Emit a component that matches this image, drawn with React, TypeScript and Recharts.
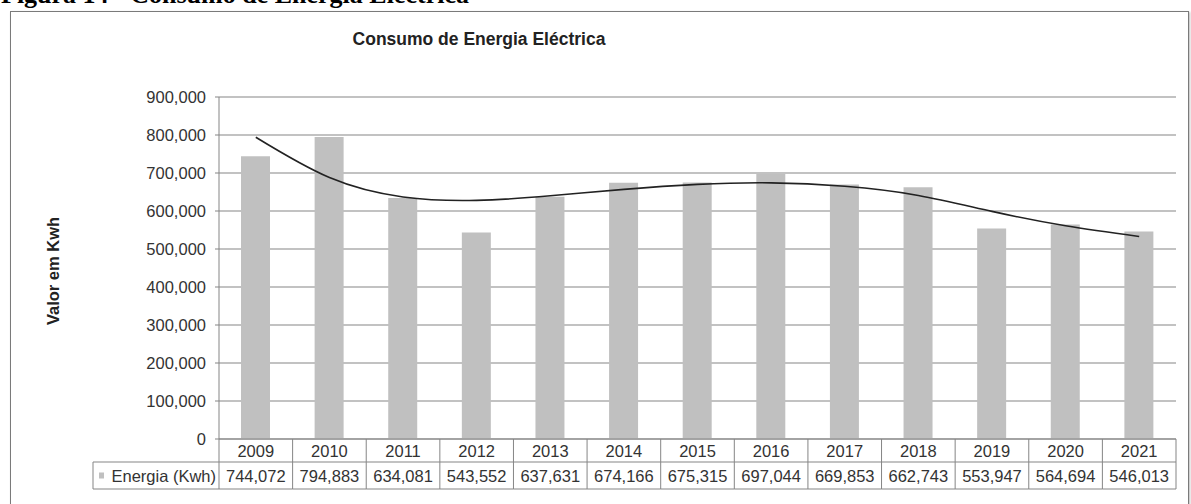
import React from "react";
import { ComposedChart, Bar, Line, XAxis, YAxis, CartesianGrid } from "recharts";

const years = ["2009", "2010", "2011", "2012", "2013", "2014", "2015", "2016", "2017", "2018", "2019", "2020", "2021"];
const energia = [744072, 794883, 634081, 543552, 637631, 674166, 675315, 697044, 669853, 662743, 553947, 564694, 546013];
// linha de tendência (polinomial)
const tendencia = [794000, 688000, 637000, 628000, 640000, 657000, 670000, 674000, 665000, 641000, 599000, 561000, 533000];
const yTicks = [0, 100000, 200000, 300000, 400000, 500000, 600000, 700000, 800000, 900000];

const data = years.map((year, i) => ({ year, energia: energia[i], tendencia: tendencia[i] }));

const FONT = "'Liberation Sans', Arial, sans-serif";
const W = 1191;
const H = 504;
const PLOT_LEFT = 219;
const PLOT_RIGHT = 1176;
const PLOT_TOP = 97;
const PLOT_BOTTOM = 439;
const CELL_W = (PLOT_RIGHT - PLOT_LEFT) / years.length;
const ROW1 = 23;
const ROW2 = 27;
const TABLE_LEFT = 93;
const LINE_COLOR = "#858585";
const TEXT_COLOR = "#333";

const fmt = (v: number) => v.toLocaleString("en-US");

function TableTick(props: any) {
  const { x, payload, index } = props;
  const left = x - CELL_W / 2;
  const right = x + CELL_W / 2;
  const top = PLOT_BOTTOM;
  const mid = top + ROW1;
  const bot = mid + ROW2;
  const i = years.indexOf(payload.value);
  return (
    <g>
      <line x1={left} y1={top} x2={left} y2={bot} stroke={LINE_COLOR} />
      {index === years.length - 1 && <line x1={right} y1={top} x2={right} y2={bot} stroke={LINE_COLOR} />}
      <line x1={left} y1={mid} x2={right} y2={mid} stroke={LINE_COLOR} />
      <line x1={left} y1={bot} x2={right} y2={bot} stroke={LINE_COLOR} />
      <text x={x} y={top + ROW1 / 2} textAnchor="middle" dominantBaseline="central" fontSize={16.5} fill={TEXT_COLOR} fontFamily={FONT}>
        {payload.value}
      </text>
      <text x={x} y={mid + ROW2 / 2} textAnchor="middle" dominantBaseline="central" fontSize={16.5} fill={TEXT_COLOR} fontFamily={FONT}>
        {fmt(energia[i])}
      </text>
      {index === 0 && (
        <g>
          <line x1={TABLE_LEFT} y1={mid} x2={left} y2={mid} stroke={LINE_COLOR} />
          <line x1={TABLE_LEFT} y1={bot} x2={left} y2={bot} stroke={LINE_COLOR} />
          <line x1={TABLE_LEFT} y1={mid} x2={TABLE_LEFT} y2={bot} stroke={LINE_COLOR} />
          <rect x={TABLE_LEFT + 6} y={mid + ROW2 / 2 - 3} width={5} height={6} fill="#c0c0c0" />
          <text x={left - 3} y={mid + ROW2 / 2} textAnchor="end" dominantBaseline="central" fontSize={16.5} fill={TEXT_COLOR} fontFamily={FONT}>
            Energia (Kwh)
          </text>
        </g>
      )}
    </g>
  );
}

const YLabel = () => (
  <text
    x={53}
    y={271}
    transform="rotate(-90, 53, 271)"
    textAnchor="middle"
    dominantBaseline="central"
    fontSize={16.5}
    fontWeight="bold"
    fill="#222"
    fontFamily={FONT}
  >
    Valor em Kwh
  </text>
);

export default function App() {
  return (
    <div style={{ position: "absolute", left: 0, top: 0, width: W, height: H, background: "#fff", overflow: "hidden" }}>
      {/* legenda da figura, cortada no topo como no original */}
      <div
        style={{
          position: "absolute",
          left: 1,
          top: -21,
          fontFamily: "'Liberation Serif', 'Times New Roman', serif",
          fontWeight: "bold",
          fontSize: 26,
          lineHeight: "32px",
          color: "#000",
          whiteSpace: "nowrap",
        }}
      >
        Figura 14 - Consumo de Energia Eléctrica
      </div>
      <div
        style={{
          position: "absolute",
          left: 10,
          top: 11,
          width: 1177,
          height: 520,
          border: "1px solid #7a7a7a",
          boxShadow: "1px 1px 2px #bbb",
        }}
      />
      <div
        style={{
          position: "absolute",
          left: 0,
          width: 958,
          top: 29,
          textAlign: "center",
          fontFamily: FONT,
          fontWeight: "bold",
          fontSize: 17.5,
          color: "#222",
        }}
      >
        Consumo de Energia Eléctrica
      </div>
      <div style={{ position: "absolute", left: 0, top: 0 }}>
        <ComposedChart
          width={W}
          height={H}
          data={data}
          margin={{ top: PLOT_TOP, right: W - PLOT_RIGHT, bottom: 0, left: 0 }}
          barCategoryGap="30%"
        >
          <CartesianGrid vertical={false} stroke={LINE_COLOR} yAxisId="left" />
          <XAxis
            dataKey="year"
            height={H - PLOT_BOTTOM}
            tickLine={false}
            axisLine={{ stroke: LINE_COLOR }}
            tick={<TableTick />}
            interval={0}
          />
          <YAxis
            yAxisId="left"
            width={PLOT_LEFT}
            domain={[0, 900000]}
            ticks={yTicks}
            interval={0}
            tickSize={4}
            tickMargin={9}
            tickLine={{ stroke: LINE_COLOR }}
            axisLine={{ stroke: LINE_COLOR }}
            tickFormatter={fmt}
            tick={{ fontSize: 16.5, fill: TEXT_COLOR, fontFamily: FONT }}
            label={<YLabel />}
          />
          <YAxis
            yAxisId="right"
            orientation="right"
            width={0}
            domain={[0, 900000]}
            tick={false}
            tickLine={false}
            axisLine={{ stroke: LINE_COLOR }}
          />
          <Bar yAxisId="left" dataKey="energia" fill="#c0c0c0" barSize={29} isAnimationActive={false} />
          <Line
            yAxisId="left"
            dataKey="tendencia"
            type="natural"
            stroke="#222"
            strokeWidth={1.6}
            dot={false}
            activeDot={false}
            isAnimationActive={false}
          />
        </ComposedChart>
      </div>
    </div>
  );
}
